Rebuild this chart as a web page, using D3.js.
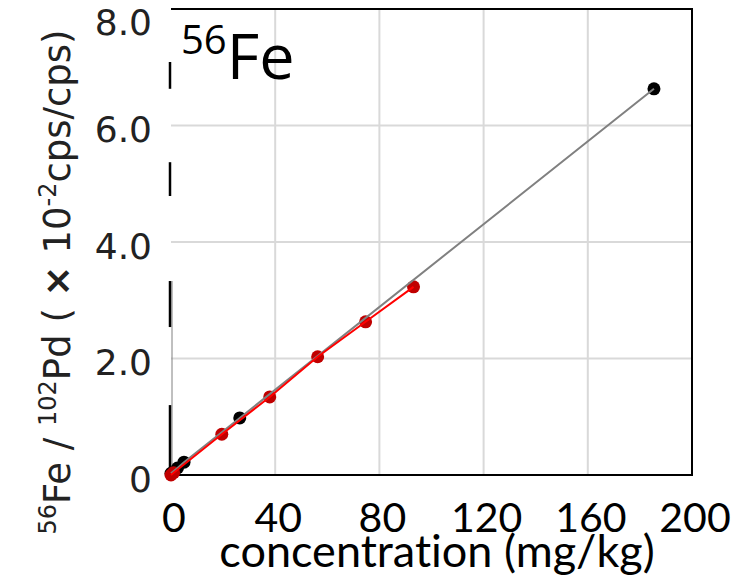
<!DOCTYPE html>
<html>
<head>
<meta charset="utf-8">
<script src="https://cdn.jsdelivr.net/npm/d3@7"></script>
<style>
  body { margin: 0; background: #fff; }
  svg { display: block; }
  text { font-variant-ligatures: none; }
</style>
</head>
<body>
<div id="chart"></div>
<script>
// calibration series (concentration mg/kg, ratio x10^-2)
const blackX = [0, 2.5, 5, 26.4, 185.4];
const blackY = [0.03, 0.12, 0.22, 0.98, 6.63];
const redX = [0, 1, 19.5, 37.9, 56.3, 74.7, 93.1];
const redY = [0.0, 0.04, 0.70, 1.34, 2.03, 2.63, 3.23];

const xTicks = [0, 40, 80, 120, 160, 200];
const yTicks = [0, 2, 4, 6, 8];
const xGrid = [40, 80, 120, 160];
const yGrid = [2, 4, 6];
// broken black pieces along the left axis (in y units)
const leftAxisPieces = [[6.63, 7.09], [4.79, 5.37], [2.54, 3.33], [0.03, 1.2]];

const width = 744, height = 578;
const margin = {top: 9, right: 52, bottom: 103, left: 171};

const svg = d3.select("#chart").append("svg")
    .attr("width", width)
    .attr("height", height);

const x = d3.scaleLinear().domain([0, 200]).range([margin.left, width - margin.right]);
const y = d3.scaleLinear().domain([0, 8]).range([height - margin.bottom, margin.top]);

// grid
svg.append("g").selectAll("line")
    .data(xGrid).enter().append("line")
    .attr("x1", d => x(d)).attr("x2", d => x(d))
    .attr("y1", y(8)).attr("y2", y(0))
    .attr("stroke", "#d9d9d9").attr("stroke-width", 2);

svg.append("g").selectAll("line")
    .data(yGrid).enter().append("line")
    .attr("x1", x(0)).attr("x2", x(200))
    .attr("y1", d => y(d)).attr("y2", d => y(d))
    .attr("stroke", "#d9d9d9").attr("stroke-width", 2);

// frame (top, right, bottom)
svg.append("path")
    .attr("d", `M${x(0)},${y(8)}H${x(200)}V${y(0)}H${x(0)}`)
    .attr("fill", "none")
    .attr("stroke", "#000")
    .attr("stroke-width", 2);

// left axis: thin grey line plus broken black pieces
svg.append("line")
    .attr("x1", x(0) + 1).attr("x2", x(0) + 1)
    .attr("y1", y(3.33)).attr("y2", y(0))
    .attr("stroke", "#808080").attr("stroke-width", 1);

svg.append("g").selectAll("line")
    .data(leftAxisPieces).enter().append("line")
    .attr("x1", x(0) - 1).attr("x2", x(0) - 1)
    .attr("y1", d => y(d[0])).attr("y2", d => y(d[1]))
    .attr("stroke", "#000").attr("stroke-width", 2.5);

const blackData = blackX.map((v, i) => ({x: v, y: blackY[i]}));
const redData = redX.map((v, i) => ({x: v, y: redY[i]}));

const line = d3.line().x(d => x(d.x)).y(d => y(d.y));

// markers
svg.append("g").selectAll("circle")
    .data(blackData).enter().append("circle")
    .attr("cx", d => x(d.x)).attr("cy", d => y(d.y))
    .attr("r", 6.5).attr("fill", "#000");

svg.append("g").selectAll("circle")
    .data(redData).enter().append("circle")
    .attr("cx", d => x(d.x)).attr("cy", d => y(d.y))
    .attr("r", 6.5).attr("fill", "#c00000");

// lines
svg.append("path")
    .datum(blackData)
    .attr("d", line)
    .attr("fill", "none")
    .attr("stroke", "#808080")
    .attr("stroke-width", 2);

svg.append("path")
    .datum(redData)
    .attr("d", line)
    .attr("fill", "none")
    .attr("stroke", "#ff0000")
    .attr("stroke-width", 2);

// tick labels
svg.append("g").selectAll("text")
    .data(xTicks).enter().append("text")
    .attr("x", d => x(d) + 3)
    .attr("y", 532)
    .attr("text-anchor", "middle")
    .attr("font-family", "Lato, 'Open Sans', sans-serif")
    .attr("font-size", 41)
    .attr("fill", "#000")
    .text(d => d);

svg.append("g").selectAll("text")
    .data(yTicks).enter().append("text")
    .attr("x", 152)
    .attr("y", d => Math.max(y(d) + 4, 22))
    .attr("dominant-baseline", "central")
    .attr("text-anchor", "end")
    .attr("font-family", "'DejaVu Sans', sans-serif")
    .attr("font-size", 36)
    .attr("fill", "#222")
    .text(d => d === 0 ? "0" : d3.format(".1f")(d));

// axis titles
svg.append("text")
    .attr("x", 437)
    .attr("y", 567)
    .attr("text-anchor", "middle")
    .attr("font-family", "Lato, 'Open Sans', sans-serif")
    .attr("font-size", 45)
    .attr("fill", "#000")
    .text("concentration (mg/kg)");

const yTitle = svg.append("text")
    .attr("transform", "translate(70,282) rotate(-90)")
    .attr("text-anchor", "middle")
    .attr("font-family", "'DejaVu Sans', sans-serif")
    .attr("font-size", 37)
    .attr("fill", "#222");
yTitle.append("tspan").attr("font-size", 24).attr("dy", -14).text("56");
yTitle.append("tspan").attr("dy", 14).text("Fe / ");
yTitle.append("tspan").attr("font-size", 24).attr("dy", -14).text("102");
yTitle.append("tspan").attr("dy", 14).text("Pd ( ");
yTitle.append("tspan").attr("font-weight", "bold").text("×");
yTitle.append("tspan").text(" 10");
yTitle.append("tspan").attr("font-size", 24).attr("dy", -14).text("-2");
yTitle.append("tspan").attr("dy", 14).text("cps/cps)");

// element label
const title = svg.append("text")
    .attr("x", 181)
    .attr("y", 79)
    .attr("font-family", "'Open Sans', sans-serif")
    .attr("fill", "#000");
title.append("tspan").attr("font-size", 40).attr("dy", -25).text("56");
title.append("tspan").attr("font-size", 63).attr("dy", 25).text("Fe");
</script>
</body>
</html>
